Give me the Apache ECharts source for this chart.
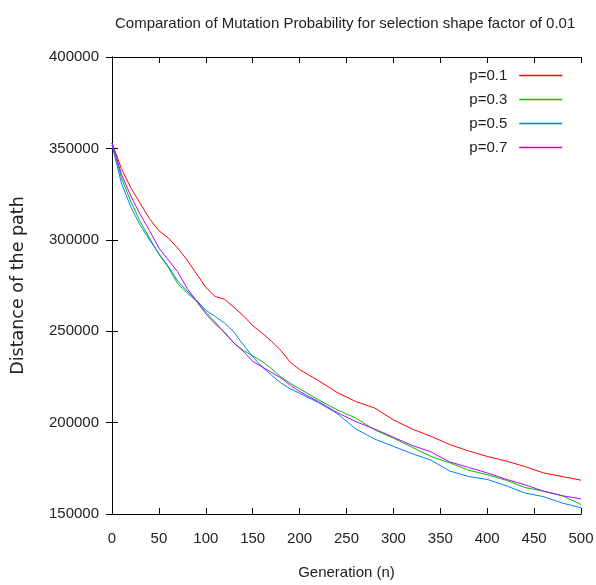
<!DOCTYPE html>
<html>
<head>
<meta charset="utf-8">
<script src="https://cdn.jsdelivr.net/npm/echarts@6/dist/echarts.min.js"></script>
<style>
  html, body { margin: 0; padding: 0; background: #fff; }
  #chart { width: 596px; height: 585px; }
</style>
</head>
<body>
<div id="chart"></div>
<script>
// generation numbers where the curves were read
var generations = [0, 10, 20, 30, 40, 50, 60, 70, 80, 90, 100, 110, 120, 130, 140, 150, 160, 170, 180, 190,
  200, 220, 240, 260, 280, 300, 320, 340, 360, 380, 400, 420, 440, 460, 480, 500]

var p01 = [353000, 339000, 328500, 320000, 311500, 305000, 301000, 295500, 289000, 281500, 274000, 269000,
  267500, 263000, 258500, 253000, 249000, 244500, 239500, 233000, 229000, 223000, 216500, 211500, 208000,
  201500, 196500, 192500, 188000, 184500, 181500, 179000, 176000, 172500, 170500, 168500]
var p03 = [353000, 334000, 321000, 310000, 301000, 292000, 285000, 276000, 271000, 266500, 260500, 255000,
  249000, 243500, 239500, 236500, 233500, 229500, 225000, 221500, 218500, 212500, 207000, 202500, 196000,
  191500, 186500, 181500, 178000, 174000, 171500, 168500, 164500, 162500, 160000, 155200]
var p05 = [352000, 331000, 318000, 308000, 300000, 292500, 285500, 277500, 272000, 267000, 261500, 258000,
  254500, 249500, 242500, 236000, 230500, 226000, 221700, 218500, 216000, 211000, 205000, 196500, 191000,
  187000, 183000, 179500, 173500, 170500, 168900, 165500, 161500, 159500, 156000, 153400]
var p07 = [353000, 336000, 324000, 314000, 305000, 295500, 289000, 282500, 273500, 266500, 259500, 254000,
  249500, 243500, 239000, 233500, 230500, 227500, 224500, 220500, 217000, 211500, 205500, 200500, 196500,
  192000, 187500, 184000, 178500, 175500, 172500, 169000, 166000, 162500, 160000, 158300]

var seriesNames = ['p=0.1', 'p=0.3', 'p=0.5', 'p=0.7']
var seriesValues = [p01, p03, p05, p07]
var colorList = ['#ff0000', '#00c000', '#0080ff', '#c000ff']

var plainFont = '"Liberation Sans", sans-serif'
var textColor = '#222'

var myChart = echarts.init(document.getElementById('chart'))

function axisX(pos, showLabel) {
  return {
    type: 'value',
    position: pos,
    min: 0,
    max: 500,
    interval: 50,
    name: showLabel ? 'Generation (n)' : '',
    nameLocation: 'middle',
    nameGap: 51,
    nameTextStyle: { fontFamily: plainFont, fontSize: 15, color: textColor },
    axisLine: { show: true, lineStyle: { color: '#000', width: 1 } },
    axisTick: { show: true, inside: true, length: 6, lineStyle: { color: '#000' } },
    axisLabel: { show: showLabel, margin: 17, fontFamily: plainFont, fontSize: 15, color: textColor },
    splitLine: { show: false }
  }
}

function axisY(pos, showLabel) {
  return {
    type: 'value',
    position: pos,
    min: 150000,
    max: 400000,
    interval: 50000,
    name: showLabel ? 'Distance of the path' : '',
    nameLocation: 'middle',
    nameGap: 85,
    nameTextStyle: { fontFamily: '"DejaVu Sans", sans-serif', fontSize: 17.5, color: textColor },
    axisLine: { show: true, lineStyle: { color: '#000', width: 1 } },
    axisTick: { show: true, inside: true, length: 6, lineStyle: { color: '#000' } },
    axisLabel: {
      show: showLabel,
      margin: 13,
      fontFamily: plainFont,
      fontSize: 15,
      color: textColor,
      formatter: function (v) { return String(v) }
    },
    splitLine: { show: false }
  }
}

var option = {
  animation: false,
  backgroundColor: '#fff',
  title: {
    text: 'Comparation of Mutation Probability for selection shape factor of 0.01',
    left: 110,
    top: 11,
    textStyle: { fontFamily: plainFont, fontSize: 15, fontWeight: 'normal', color: textColor }
  },
  legend: {
    orient: 'vertical',
    right: 28,
    top: 63,
    align: 'right',
    itemWidth: 43,
    itemHeight: 14,
    itemGap: 9,
    itemStyle: { opacity: 0 },
    lineStyle: { width: 1.5 },
    textStyle: { fontFamily: plainFont, fontSize: 15, color: textColor, padding: [0, 7, 0, 0] },
    data: seriesNames
  },
  grid: { left: 112, right: 15, top: 57, bottom: 71, outerBoundsMode: 'none' },
  xAxis: [axisX('bottom', true), axisX('top', false)],
  yAxis: [axisY('left', true), axisY('right', false)],
  series: seriesNames.map(function (name, i) {
    return {
      name: name,
      type: 'line',
      symbol: 'none',
      color: colorList[i],
      lineStyle: { width: 1 },
      data: generations.map(function (g, j) { return [g, seriesValues[i][j]] })
    }
  })
}
myChart.setOption(option)
</script>
</body>
</html>
